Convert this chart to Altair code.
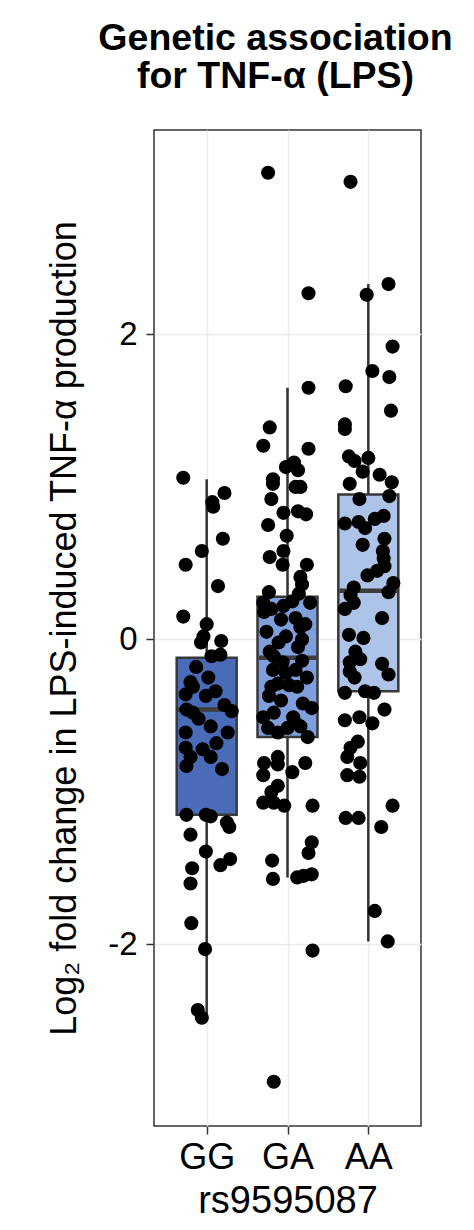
import altair as alt
import pandas as pd

# ---------------- data ----------------
genotypes = ["GG", "GA", "AA"]

gg_vals = [1.06, 0.96, 0.90, 0.87, 0.66, 0.58, 0.49, 0.35, 0.15, 0.10, 0.02, -0.02, -0.01,
           -0.11, -0.10, -0.18, -0.28, -0.31, -0.36, -0.34, -0.37, -0.43, -0.46, -0.48, -0.47,
           -0.61, -0.57, -0.61, -0.71, -0.77, -0.72, -0.77, -0.83, -0.85, -1.15, -1.15, -1.16,
           -1.20, -1.23, -1.28, -1.39, -1.50, -1.60, -1.48, -1.44, -1.86, -2.03, -2.43, -2.48,
           -0.52, -0.68, -0.25]
gg_jit = [-0.29, 0.22, 0.07, 0.08, 0.20, -0.06, -0.26, 0.14, -0.29, 0.00, -0.04, -0.07, 0.18,
          0.06, 0.17, -0.13, -0.20, -0.17, -0.26, 0.11, -0.01, 0.22, -0.25, -0.17, 0.31,
          -0.26, 0.05, 0.26, -0.26, -0.20, -0.05, 0.05, -0.25, 0.19, -0.25, -0.01, 0.05,
          0.25, 0.28, -0.20, -0.01, -0.18, -0.20, 0.17, 0.29, -0.19, -0.02, -0.11, -0.06,
          -0.10, 0.12, 0.02]

ga_vals = [3.06, 2.27, 1.65, 1.39, 1.27, 1.25, 1.13, 1.16, 1.11, 1.05, 1.02, 1.00, 1.00, 0.92,
           0.83, 0.84, 0.82, 0.75, 0.68, 0.54, 0.58, 0.49, 0.49, 0.41, 0.36, 0.31, 0.30, 0.24,
           0.18, 0.22, 0.25, 0.24, 0.13, 0.14, 0.05, 0.08, 0.00, -0.02, -0.05, -0.11, -0.15,
           -0.14, -0.20, -0.22, -0.25, -0.31, -0.29, -0.31, -0.37, -0.42, -0.45, -0.51, -0.48,
           -0.51, -0.58, -0.58, -0.57, -0.61, -0.64, -0.81, -0.77, -0.81, -0.82, -0.89, -0.87,
           -0.96, -1.00, -1.07, -1.07, -1.09, -1.09, -1.33, -1.40, -1.45, -1.57, -1.56, -1.55,
           -1.54, -2.04, -2.90,
           0.20, 0.10, -0.08, -0.30, -0.40, -0.55, 0.02, -0.20]
ga_jit = [-0.24, 0.26, 0.26, -0.22, -0.30, 0.26, -0.02, 0.08, 0.13, -0.18, -0.18, 0.10, 0.16, -0.20,
          -0.05, 0.13, 0.23, -0.24, -0.01, -0.22, -0.05, -0.06, 0.24, 0.16, 0.18, -0.23, 0.14, -0.30,
          -0.29, -0.05, 0.06, 0.28, -0.08, 0.10, -0.26, 0.16, 0.18, -0.11, 0.13, -0.17, -0.06,
          0.18, -0.18, -0.02, 0.24, -0.20, -0.12, 0.12, -0.23, 0.19, 0.30, -0.30, -0.17,
          0.07, -0.24, 0.00, 0.16, -0.12, 0.25, -0.29, -0.12, 0.22, -0.12, -0.30, 0.06,
          -0.12, -0.20, -0.30, -0.17, -0.04, 0.31, 0.30, 0.26, -0.19, -0.18, 0.12, 0.20,
          0.30, 0.31, -0.17,
          -0.20, 0.22, -0.22, 0.02, -0.08, 0.10, -0.02, 0.10]

aa_vals = [3.00, 2.33, 2.26, 1.92, 1.76, 1.72, 1.66, 1.50, 1.41, 1.38, 1.20, 1.17, 1.19, 1.10,
           1.08, 1.03, 1.02, 0.94, 0.92, 0.76, 0.77, 0.73, 0.79, 0.81, 0.62, 0.66, 0.58, 0.53,
           0.48, 0.45, 0.42, 0.37, 0.31, 0.34, 0.29, 0.24, 0.20, 0.14, 0.03, 0.01, -0.08, -0.13,
           -0.15, -0.21, -0.25, -0.16, -0.23, -0.35, -0.34, -0.35, -0.46, -0.53, -0.51, -0.55,
           -0.67, -0.71, -0.77, -0.81, -0.89, -0.90, -1.09, -1.17, -1.17, -1.23, -1.78, -1.98]
aa_jit = [-0.22, 0.25, -0.02, 0.30, 0.05, 0.26, -0.28, 0.28, -0.29, -0.29, -0.24, -0.17, 0.00, -0.07,
          0.14, 0.29, -0.23, 0.26, -0.11, -0.29, -0.12, -0.04, 0.08, 0.19, -0.07, 0.20, 0.18, 0.19,
          0.20, 0.11, -0.01, 0.31, 0.25, -0.18, -0.22, -0.18, -0.29, 0.17, -0.24, -0.06, -0.16, -0.10,
          -0.23, -0.23, -0.17, 0.17, 0.25, -0.29, -0.04, 0.07, 0.20, -0.29, -0.11, 0.05,
          -0.13, -0.22, -0.26, -0.10, -0.26, -0.11, 0.30, -0.28, -0.12, 0.16, 0.08, 0.24]

# box statistics
box_low = [-2.48, -1.56, -1.98]
box_q1 = [-1.15, -0.64, -0.34]
box_median = [-0.46, -0.12, 0.32]
box_q3 = [-0.12, 0.28, 0.95]
box_high = [1.05, 1.65, 2.33]
box_colors = ["#4a6cb8", "#7e9fdc", "#adc4e8"]

y_ticks = [-2, 0, 2]

# ---------------- tables ----------------
rows = []
for i, (vals, jit) in enumerate([(gg_vals, gg_jit), (ga_vals, ga_jit), (aa_vals, aa_jit)]):
    for v, j in zip(vals, jit):
        rows.append({"genotype": genotypes[i], "pos": i + 1 + j, "value": v})
points_df = pd.DataFrame(rows)

box_df = pd.DataFrame({
    "genotype": genotypes,
    "pos": [1, 2, 3],
    "low": box_low, "q1": box_q1, "median": box_median, "q3": box_q3, "high": box_high,
})

FONT = "Liberation Sans"
label_expr = " : ".join(
    [f"datum.value == {i + 1} ? '{g}'" for i, g in enumerate(genotypes[:-1])]
) + f" : '{genotypes[-1]}'"

x_scale = alt.Scale(domain=[0.41, 3.59], nice=False, zero=False)
y_scale = alt.Scale(domain=[-3.19, 3.34], nice=False, zero=False)

x_axis = alt.Axis(values=[1, 2, 3], labelExpr=label_expr, title="rs9595087",
                  labelBaseline="alphabetic", labelPadding=34, labelFontSize=36,
                  titleBaseline="alphabetic", titleY=86, titleFontWeight="normal",
                  titleFontSize=38)
y_axis = alt.Axis(values=y_ticks, labelExpr="toString(datum.value)",
                  title="Log₂ fold change in LPS-induced TNF-α production",
                  labelPadding=9, labelFontSize=33, titleFontWeight="normal",
                  titleFontSize=36, titleX=-90, titleBaseline="middle")

base_box = alt.Chart(box_df)

whisker = base_box.mark_rule(color="#333333", strokeWidth=2.5).encode(
    x=alt.X("pos:Q", scale=x_scale, axis=x_axis),
    y=alt.Y("low:Q", scale=y_scale, axis=y_axis),
    y2="high:Q",
)

box = base_box.mark_bar(size=60, stroke="#383838", strokeWidth=2.5).encode(
    x="pos:Q",
    y="q1:Q",
    y2="q3:Q",
    color=alt.Color("genotype:N", scale=alt.Scale(domain=genotypes, range=box_colors), legend=None),
)

median = base_box.mark_tick(orient="horizontal", size=58, thickness=4.5, color="#3d3d3d", opacity=1).encode(
    x="pos:Q",
    y="median:Q",
)

points = alt.Chart(points_df).mark_circle(size=200, color="black", opacity=1).encode(
    x="pos:Q",
    y="value:Q",
)

chart = alt.layer(whisker, box, median, points).properties(
    width=267,
    height=996,
    background="white",
    title=alt.Title(["Genetic association", "for TNF-α (LPS)"], fontSize=37.5, font=FONT,
                    fontWeight="bold", anchor="middle", lineHeight=38, offset=35, dx=-12,
                    color="black"),
    padding={"left": 146, "top": 122, "right": 45, "bottom": 100},
    autosize=alt.AutoSizeParams(type="none"),
).configure_view(
    stroke="#333333", strokeWidth=1.5, fill="white"
).configure_axis(
    labelFont=FONT, titleFont=FONT,
    labelColor="black", titleColor="black",
    grid=True, gridColor="#ebebeb", gridWidth=1.5,
    domain=False, tickColor="#333333", tickWidth=1.5, tickSize=8,
)

chart.save("out.html", embed_options={"renderer": "svg", "actions": False})
